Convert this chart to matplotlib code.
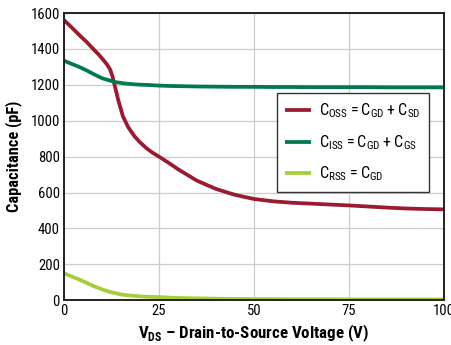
import matplotlib
matplotlib.use('Agg')
import matplotlib.pyplot as plt
from matplotlib import font_manager

# 数据
vds = [0, 2, 4.2, 6, 7.7, 9, 10.3, 11.3, 12.1, 12.7, 13.3, 14.3, 15.5, 16.9, 18.6, 20, 21.7, 23.3, 25, 27.8,
       30, 35, 40, 45, 50, 55, 60, 65, 70, 75, 80, 85, 90, 95, 100]
c_oss = [1561, 1520, 1474, 1438, 1400, 1372, 1340, 1314, 1287, 1252, 1200, 1113, 1025, 964, 912, 880, 847, 822, 800, 762,
         730, 666, 620, 587, 564, 551, 543, 538, 533, 528, 522, 516, 511, 508, 506]
c_iss = [1335, 1317, 1298, 1280, 1261, 1247, 1235, 1229, 1224, 1220, 1216, 1213, 1209, 1206, 1203, 1201, 1200, 1198, 1196, 1194,
         1193, 1191, 1190, 1189, 1189, 1188, 1188, 1187, 1187, 1187, 1187, 1186, 1186, 1186, 1186]
c_rss = [150, 132, 113, 96, 79, 68, 58, 51, 46, 43, 40, 35, 30, 27, 24, 21, 19, 18, 17, 14,
         12, 10, 8, 7, 6, 6, 5, 5, 5, 4, 4, 4, 4, 4, 4]

x_ticks = [0, 25, 50, 75, 100]
y_ticks = [0, 200, 400, 600, 800, 1000, 1200, 1400, 1600]

labels = [r'$\mathrm{C_{OSS} = C_{GD} + C_{SD}}$',
          r'$\mathrm{C_{ISS} = C_{GD} + C_{GS}}$',
          r'$\mathrm{C_{RSS} = C_{GD}}$']
colors = ['#9a1b2f', '#007a4a', '#a6ce39']

# 优先选用窄体字体
installed = {f.name for f in font_manager.fontManager.ttflist}
narrow = [n for n in ['Roboto Condensed', 'Liberation Sans Narrow', 'Open Sans Condensed',
                      'DejaVu Sans Condensed', 'Noto Sans Condensed'] if n in installed]
is_narrow = bool(narrow)
family = narrow[0] if narrow else 'Liberation Sans'
plt.rcParams['font.family'] = [family, 'DejaVu Sans']
plt.rcParams['mathtext.fontset'] = 'custom'
plt.rcParams['mathtext.rm'] = family
plt.rcParams['mathtext.bf'] = family + ':bold'
k = 1.0 if is_narrow else 0.85

fig = plt.figure(figsize=(4.51, 3.45), dpi=100)
ax = fig.add_axes([0.142, 0.130, 0.842, 0.832])

for ys, lab, col in zip([c_oss, c_iss, c_rss], labels, colors):
    ax.plot(vds, ys, color=col, linewidth=2.7, label=lab, solid_capstyle='butt')

ax.set_xlim(0, 100)
ax.set_ylim(0, 1600)
ax.set_xticks(x_ticks)
ax.set_yticks(y_ticks)
ax.grid(True, color='#cccccc', linewidth=0.9)
ax.set_axisbelow(True)
for s in ax.spines.values():
    s.set_color('#222222')
    s.set_linewidth(1.4)
ax.tick_params(length=0, labelsize=10.5 * k, pad=3)

ax.set_xlabel(r'V$_{\mathbf{DS}}$ – Drain-to-Source Voltage (V)', fontsize=12.2 * k, fontweight='bold', labelpad=3)
ax.set_ylabel('Capacitance (pF)', fontsize=11.8 * k, fontweight='bold', labelpad=6)

leg = ax.legend(loc='upper left', bbox_to_anchor=(0.56, 0.722), fontsize=11.5 * k, frameon=True,
                fancybox=False, edgecolor='#333333', handlelength=1.6, borderpad=0.55,
                labelspacing=0.8, framealpha=1, handletextpad=0.5, borderaxespad=0)
leg.get_frame().set_linewidth(1.0)

fig.savefig('out.png', dpi=100)
